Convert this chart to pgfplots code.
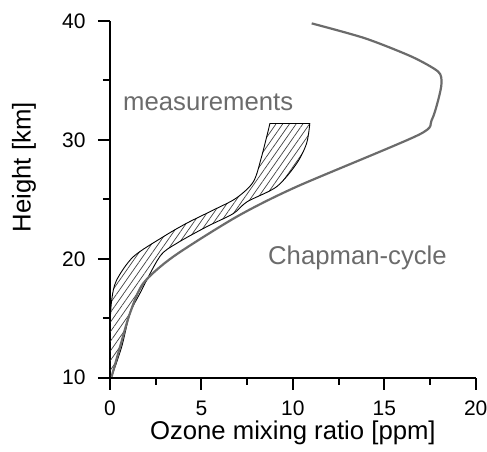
\documentclass[border=0pt]{standalone}
\usepackage{fontspec}
\setmainfont{Liberation Sans}
\usepackage{pgfplots}
\pgfplotsset{compat=1.18}
\usepgfplotslibrary{fillbetween}
\usetikzlibrary{patterns.meta}
\definecolor{chap}{gray}{0.42}
\begin{document}
\begin{tikzpicture}
\begin{axis}[name=ax, scale only axis, width=365.7pt, height=356.7pt,
  xmin=0, xmax=20, ymin=10, ymax=40,
  axis x line*=bottom, axis y line*=left,
  axis line style={line width=2pt},
  xtick={0,5,10,15,20}, ytick={10,20,30,40},
  minor xtick={2.5,7.5,12.5,17.5}, minor ytick={15,25,35},
  tick align=outside,
  major tick length=12pt, minor tick length=7pt,
  every tick/.style={black, line width=2pt},
  /pgf/number format/assume math mode=true,
  tick label style={font=\fontsize{21}{21}\selectfont},
  xticklabel style={yshift=-8pt},
  yticklabel style={xshift=-9pt},
  label style={font=\fontsize{25.7}{25.7}\selectfont},
  xlabel={Ozone mixing ratio [ppm]},
  ylabel={Height [km]},
  xlabel style={at={(axis description cs:0.5,-0.1738)}, anchor=base},
  ylabel style={at={(axis description cs:-0.2352,0.59)}, anchor=center},
]
\addplot[name path=L, draw=black, line width=0.9pt, smooth] coordinates {
 (0,10) (0,14) (0.09,16.5) (0.36,18.2) (1.28,20.18) (2.92,21.86) (4.19,22.99)
 (5.65,24.1) (6.9,25.1) (7.84,26.48) (8.29,28.59) (8.75,31.4)};
\addplot[name path=R, draw=black, line width=0.9pt, smooth] coordinates {
 (0.09,10.1) (0.64,12.6) (1.09,15.4) (1.64,17.1) (2.73,20.2) (3.65,21.3)
 (5.29,22.7) (6.74,23.8) (7.5,24.8) (9.11,26.06) (10.2,28.0) (10.75,29.7) (10.93,31.4)};
\addplot[draw=none, pattern={Lines[angle=55,distance=5.5pt,line width=0.7pt]}, pattern color=black!75]
  fill between[of=L and R];
\addplot[draw=black, line width=0.9pt] coordinates {(8.75,31.4) (10.93,31.4)};
\addplot[chap, line width=2.2pt, smooth, tension=0.45] coordinates {
 (0.09,10.1) (0.55,12.6) (1.09,15.42) (1.82,17.94) (3.46,20.18) (6.93,23.54)
 (10.2,26.06) (16.86,30.41) (17.59,31.67) (17.95,33.36) (18.13,34.76)
 (17.95,35.74) (16.5,37.0) (13.94,38.55) (11.03,39.8)};
\node[anchor=base west, text=chap, font=\fontsize{25.7}{25.7}\selectfont, inner sep=0pt]
  at (axis cs:0.71,32.51) {measurements};
\node[anchor=base west, text=chap, font=\fontsize{25.7}{25.7}\selectfont, inner sep=0pt]
  at (axis cs:8.64,19.48) {Chapman-cycle};
\end{axis}
\pgfresetboundingbox
\path ([xshift=-110pt,yshift=-73.3pt]ax.south west) rectangle ([xshift=377pt,yshift=377.7pt]ax.south west);
\end{tikzpicture}
\end{document}
